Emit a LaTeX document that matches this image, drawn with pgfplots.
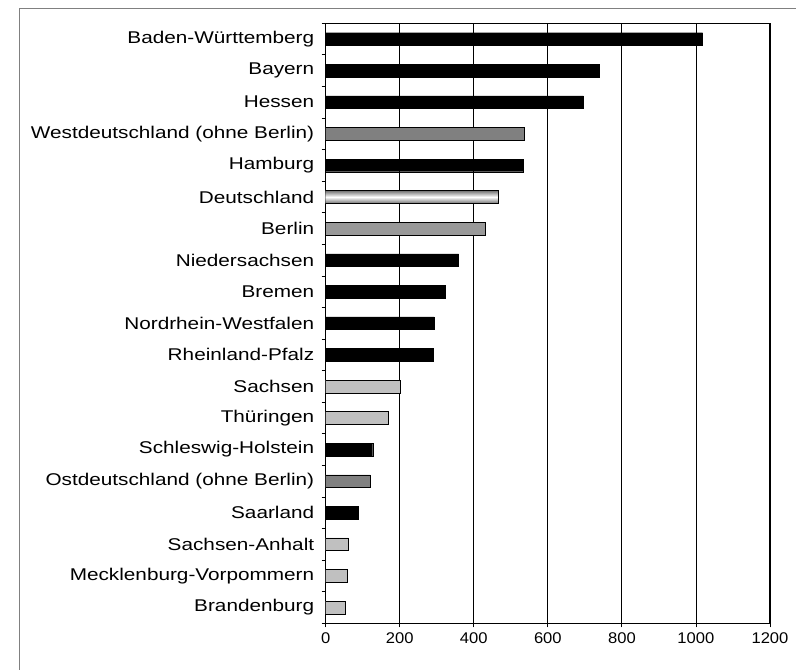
\documentclass[border=0pt]{standalone}
\usepackage{fontspec}
\setmainfont{Liberation Sans}
\newfontfamily\ylabfont[FakeStretch=1.22]{Liberation Sans}
\newfontfamily\xlabfont[FakeStretch=1.07]{Liberation Sans}
\usepackage{pgfplots}
\pgfplotsset{compat=1.18}
\definecolor{lgray}{HTML}{C0C0C0}
\definecolor{mgray}{HTML}{808080}
\definecolor{bgray}{HTML}{999999}
\definecolor{framegray}{HTML}{808080}
\begin{document}
\begin{tikzpicture}
\begin{axis}[
  name=ax,
  scale only axis,
  width=444.3pt, height=600pt,
  xmin=0, xmax=1200,
  ymin=-0.5, ymax=18.5,
  xtick={0,200,...,1200},
  ytick={0,...,18},
  yticklabels={Brandenburg,Mecklenburg-Vorpommern,Sachsen-Anhalt,Saarland,Ostdeutschland (ohne Berlin),Schleswig-Holstein,Thüringen,Sachsen,Rheinland-Pfalz,Nordrhein-Westfalen,Bremen,Niedersachsen,Berlin,Deutschland,Hamburg,Westdeutschland (ohne Berlin),Hessen,Bayern,Baden-Württemberg},
  minor ytick={-0.5,0.5,...,18.5},
  major tick length=4pt,
  minor tick length=4pt,
  tick align=outside,
  ytick pos=left, xtick pos=bottom,
  y tick style={draw=none},
  minor y tick style={draw=black, line width=0.8pt},
  x tick style={black, line width=0.8pt},
  xmajorgrids,
  major x grid style={black, line width=0.8pt},
  axis line style={black, line width=1pt},
  /pgf/number format/assume math mode=true,
  /pgf/number format/set thousands separator={},
  yticklabel style={font={\fontsize{17}{20}\ylabfont}, xshift=-4pt},
  xticklabel style={font={\fontsize{15.5}{18}\xlabfont}, yshift=-2pt},
  xbar, bar width=12.7pt, bar shift=0pt,
]
\addplot[draw=black, fill=black] coordinates {(1018,18) (739,17) (696,16) (534,14) (359,11) (324,10) (293,9) (290,8) (127,5) (88,3)};
\addplot[draw=black, fill=mgray] coordinates {(536,15) (121,4)};
\addplot[draw=black, fill=bgray] coordinates {(432,12)};
\addplot[draw=black, top color=black!55, bottom color=black!55, middle color=white] coordinates {(467,13)};
\addplot[draw=black, fill=lgray] coordinates {(201,7) (170,6) (61,2) (57,1) (53,0)};
\end{axis}
\path[use as bounding box] ([shift={(-325.7pt,-46.7pt)}]ax.south west) rectangle ([shift={(26pt,23.3pt)}]ax.north east);
\draw[framegray, line width=1pt] ([shift={(-305.7pt,-60pt)}]ax.south west) -- ([shift={(-305.7pt,14.3pt)}]ax.north west) -- ([shift={(40pt,14.3pt)}]ax.north east);
\end{tikzpicture}
\end{document}
